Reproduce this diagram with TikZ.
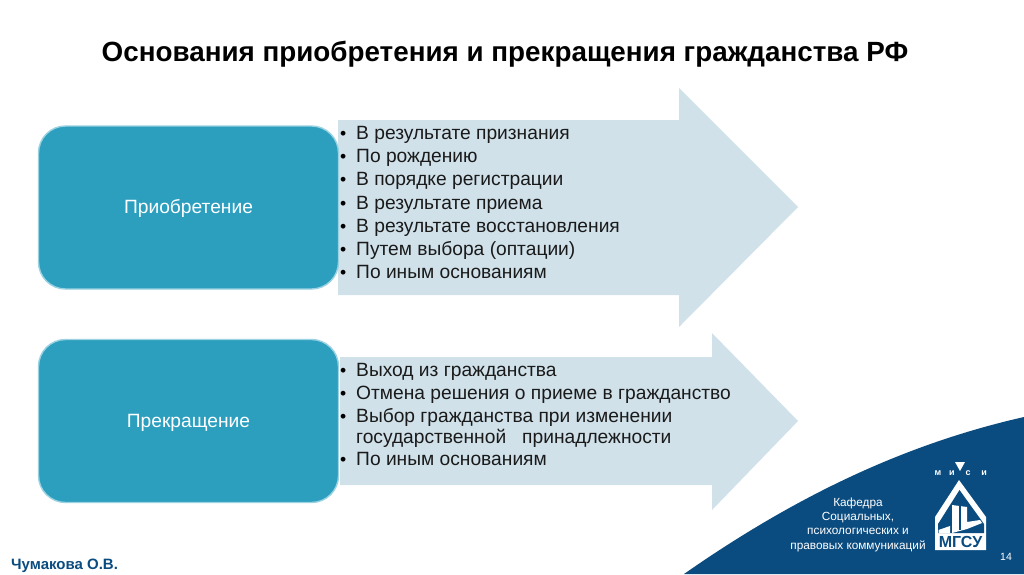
\documentclass[tikz,border=0pt]{standalone}
\usepackage{fontspec}
\setmainfont{Liberation Sans}
\definecolor{teal1}{HTML}{2C9FBF}
\definecolor{tealline}{HTML}{9AD2E2}
\definecolor{arrowfill}{HTML}{D0E1EA}
\definecolor{navy}{HTML}{0B4C80}
\definecolor{txt}{HTML}{1A1A1A}
\tikzset{
  box/.style={draw=tealline,line width=1.4pt,fill=teal1,rounded corners=27pt,minimum width=300pt,minimum height=163pt,text=white,font=\fontsize{19.2}{22}\selectfont,inner sep=0pt},
  bigarrow/.style={fill=arrowfill,draw=none},
  item/.style={anchor=base west,inner sep=0pt,font=\fontsize{19.2}{22}\selectfont,text=txt},
  bul/.style={anchor=base west,inner sep=0pt,font=\fontsize{17.6}{21}\selectfont,text=black},
  foot/.style={text=white,align=center,inner sep=0pt,font=\fontsize{11.8}{14.3}\selectfont},
  mini/.style={text=white,inner sep=0pt,font=\bfseries\fontsize{9}{10}\selectfont}
}
\begin{document}
\begin{tikzpicture}[x=1pt,y=-1pt]
\useasboundingbox (0,0) rectangle (1024,574);
\fill[white] (0,0) rectangle (1024,574);
\node[anchor=base,inner sep=0pt,font=\bfseries\fontsize{27.8}{32}\selectfont,text=black] (title) at (505,61) {Основания приобретения и прекращения гражданства РФ};
% arrows
\fill[bigarrow] (338,120) -- (679,120) -- (679,88) -- (798,207) -- (679,327) -- (679,295) -- (338,295) -- cycle;
\fill[bigarrow] (340,357) -- (712,357) -- (712,333) -- (798,421) -- (712,510) -- (712,485) -- (340,485) -- cycle;
\node[box] (acq) at (188.5,207.5) {\smash{\raisebox{-6pt}{Приобретение}}};
\node[box] (term) at (188.5,421) {\smash{\raisebox{-6pt}{Прекращение}}};
% list 1
\foreach \t [count=\i from 0] in {В результате признания,По рождению,В порядке регистрации,В результате приема,В результате восстановления,Путем выбора (оптации),По иным основаниям}{
  \node[bul] (ab\i) at (340,{139.5+\i*23.2}) {•};
  \node[item] (a\i) at (356,{139.5+\i*23.2}) {\t};
}
% list 2
\node[bul] (bb0) at (340,376) {•};
\node[item] (b0) at (356,376) {Выход из гражданства};
\node[bul] (bb1) at (340,399) {•};
\node[item] (b1) at (356,399) {Отмена решения о приеме в гражданство};
\node[bul] (bb2) at (340,422) {•};
\node[item] (b2) at (356,422) {Выбор гражданства при изменении};
\node[item] (b3) at (356,443) {государственной\ \ \ принадлежности};
\node[bul] (bb4) at (340,465) {•};
\node[item] (b4) at (356,465) {По иным основаниям};
% corner
\fill[navy] (684,574) .. controls (790,500) and (900,445) .. (1024,417) -- (1024,574) -- cycle;
\node[foot] (dept) at (858,524.5) {Кафедра\\Социальных,\\психологических и\\правовых коммуникаций};
% logo
\fill[white] (959,480) -- (986,517) -- (986,550) -- (935,550) -- (935,517) -- cycle;
\fill[navy] (959.5,490) -- (984,524) -- (984,533) -- (938,533) -- (938,524) -- cycle;
\fill[white] (952,505) -- (967,507) -- (967,522) -- (980,520) -- (982,523) -- (967,529) -- (952,533) -- cycle;
\fill[navy] (958.5,506) rectangle (961,530);
\fill[white] (938.5,530) -- (950,526) -- (950,533) -- (938.5,533) -- cycle;
\fill[white] (955,462) -- (965,462) -- (960,471) -- cycle;
\node[text=navy,inner sep=0pt,font=\bfseries\fontsize{16}{17}\selectfont] (mgsu) at (960.5,542) {МГСУ};
\node[mini] (m1) at (938,473) {м};
\node[mini] (m2) at (952,473) {и};
\node[mini] (m3) at (968,473) {с};
\node[mini] (m4) at (984,473) {и};
\node[text=white,inner sep=0pt,font=\fontsize{10.5}{12}\selectfont] (pg) at (1006,557) {14};
\node[anchor=base west,inner sep=0pt,text=navy,font=\bfseries\fontsize{15}{17}\selectfont] (author) at (11,569) {Чумакова О.В.};
\end{tikzpicture}
\end{document}
